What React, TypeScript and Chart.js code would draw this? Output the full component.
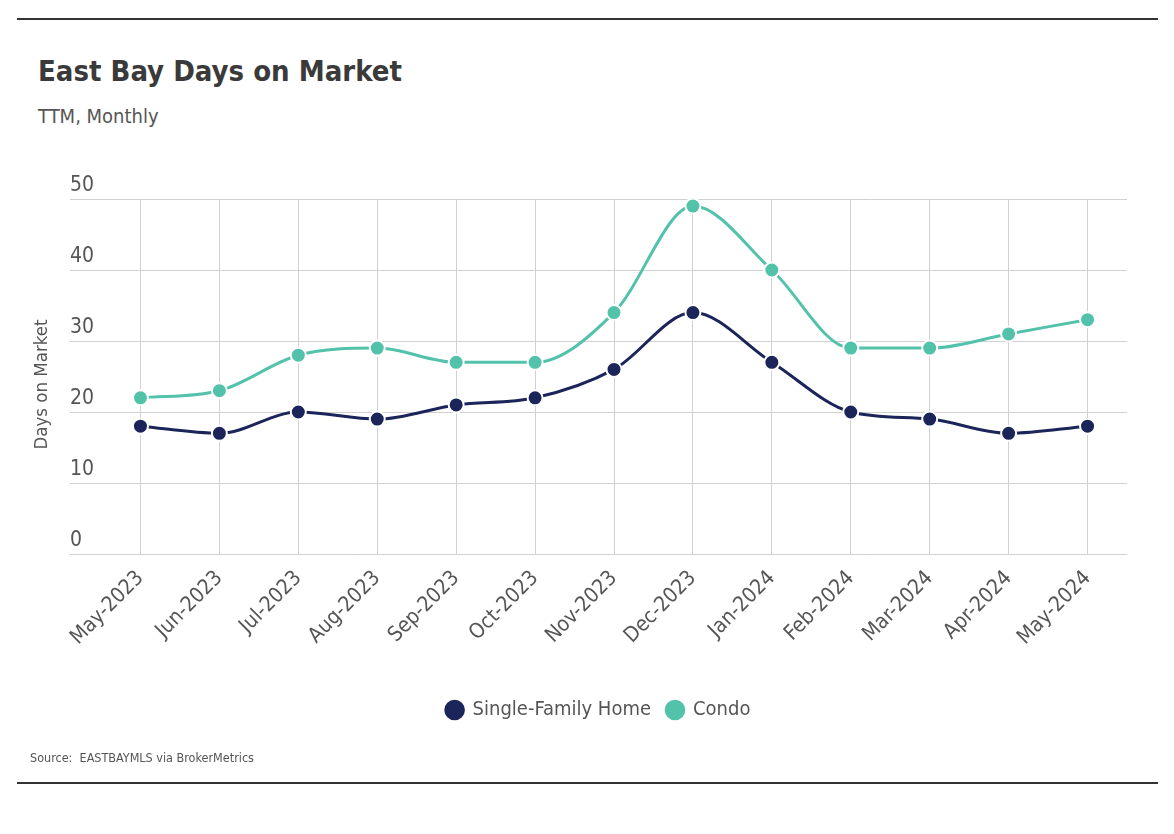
import React, { useEffect, useRef } from "react";
import { Chart, registerables } from "chart.js";

Chart.register(...registerables);

const categories = [
  "May-2023", "Jun-2023", "Jul-2023", "Aug-2023", "Sep-2023", "Oct-2023", "Nov-2023",
  "Dec-2023", "Jan-2024", "Feb-2024", "Mar-2024", "Apr-2024", "May-2024",
];
const singleFamily = [18, 17, 20, 19, 21, 22, 26, 34, 27, 20, 19, 17, 18];
const condo = [22, 23, 28, 29, 27, 27, 34, 49, 40, 29, 29, 31, 33];
const yMin = 0;
const yMax = 50;
const yStep = 10;

const FONT = "'Liberation Sans Narrow', 'DejaVu Sans Condensed', 'Open Sans', sans-serif";
const NAVY = "#1b2559";
const TEAL = "#52c2aa";

const yTitlePlugin = {
  id: "yTitle",
  afterDraw(chart: any) {
    const { ctx, chartArea } = chart;
    ctx.save();
    ctx.translate(42, (chartArea.top + chartArea.bottom) / 2 + 8);
    ctx.rotate(-Math.PI / 2);
    ctx.textAlign = "center";
    ctx.textBaseline = "middle";
    ctx.fillStyle = "#555";
    ctx.font = `18.5px ${FONT}`;
    ctx.fillText("Days on Market", 0, 0);
    ctx.restore();
  },
};

export default function App() {
  const ref = useRef<HTMLCanvasElement | null>(null);
  useEffect(() => {
    if (!ref.current) return;
    const chart = new Chart(ref.current, {
      type: "line",
      data: {
        labels: categories,
        datasets: [
          {
            label: "Single-Family Home",
            data: singleFamily,
            borderColor: NAVY,
            backgroundColor: NAVY,
            pointBackgroundColor: NAVY,
            pointBorderColor: "#fff",
            pointBorderWidth: 2,
            pointRadius: 7.5,
            borderWidth: 3,
            cubicInterpolationMode: "monotone",
          },
          {
            label: "Condo",
            data: condo,
            borderColor: TEAL,
            backgroundColor: TEAL,
            pointBackgroundColor: TEAL,
            pointBorderColor: "#fff",
            pointBorderWidth: 2,
            pointRadius: 7.5,
            borderWidth: 3,
            cubicInterpolationMode: "monotone",
          },
        ],
      },
      options: {
        responsive: false,
        animation: false,
        layout: { padding: { top: 199, left: 70, right: 47, bottom: 104 } },
        plugins: {
          tooltip: { enabled: false },
          legend: {
            position: "bottom",
            labels: {
              usePointStyle: true,
              pointStyle: "circle",
              boxWidth: 16,
              boxHeight: 16,
              padding: 16,
              color: "#555",
              font: { family: FONT, size: 20 },
            },
          },
        },
        scales: {
          x: {
            offset: true,
            grid: { offset: false, color: "#d0d0d0", drawTicks: false },
            border: { display: false },
            ticks: {
              color: "#555",
              font: { family: FONT, size: 21 },
              minRotation: 45,
              maxRotation: 45,
              padding: 12,
            },
            afterFit(scale: any) {
              scale.height = 130;
            },
          },
          y: {
            min: yMin,
            max: yMax,
            grid: { color: "#d0d0d0", tickLength: 31, drawTicks: true },
            border: { display: false },
            ticks: {
              stepSize: yStep,
              color: "#555",
              font: { family: FONT, size: 21 },
              crossAlign: "far",
              labelOffset: -13,
              padding: 0,
            },
            afterFit(scale: any) {
              scale.width = 31;
            },
          },
        },
      },
      plugins: [yTitlePlugin],
    });
    return () => chart.destroy();
  }, []);

  return (
    <div style={{ position: "fixed", left: 0, top: 0, width: 1174, height: 834, background: "#fff", fontFamily: FONT }}>
      <div style={{ position: "absolute", left: 17, top: 18, width: 1141, height: 2, background: "#333" }} />
      <div style={{ position: "absolute", left: 38, top: 54, fontSize: 29, fontWeight: 700, color: "#3a3a3a", whiteSpace: "nowrap" }}>
        East Bay Days on Market
      </div>
      <div style={{ position: "absolute", left: 38, top: 104, fontSize: 20, color: "#555", whiteSpace: "nowrap" }}>
        TTM, Monthly
      </div>
      <canvas ref={ref} width={1174} height={834} style={{ position: "absolute", left: 0, top: 0, width: 1174, height: 834 }} />
      <div style={{ position: "absolute", left: 30, top: 750, fontSize: 12.5, color: "#555", whiteSpace: "nowrap" }}>
        Source:&nbsp; EASTBAYMLS via BrokerMetrics
      </div>
      <div style={{ position: "absolute", left: 17, top: 782, width: 1141, height: 2, background: "#333" }} />
    </div>
  );
}
